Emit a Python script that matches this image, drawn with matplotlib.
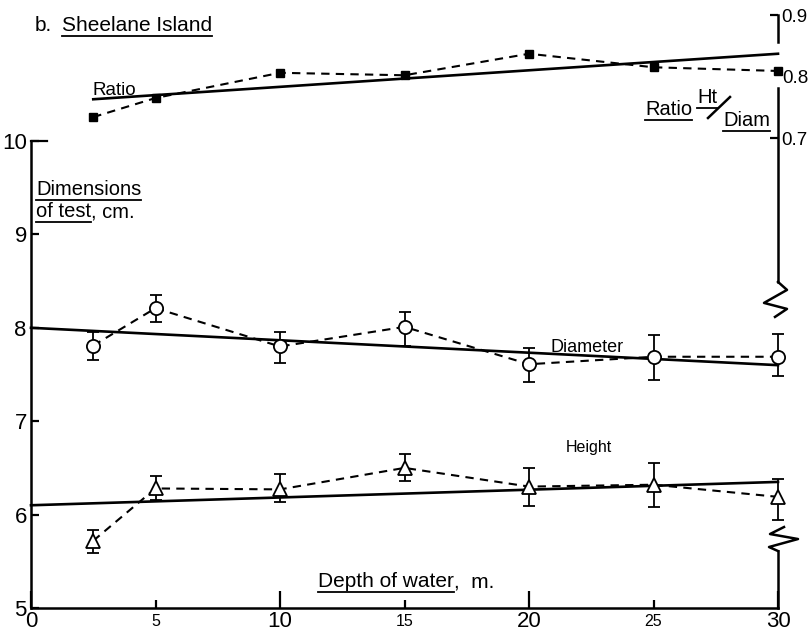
import matplotlib.pyplot as plt
from matplotlib.lines import Line2D
from matplotlib.transforms import ScaledTranslation

plt.rcParams['font.family'] = ['Liberation Sans', 'DejaVu Sans']

# depth of water, m.
depth = [2.5, 5, 10, 15, 20, 25, 30]

# diameter of test, cm (mean with range)
diam = [7.81, 8.21, 7.80, 8.01, 7.61, 7.69, 7.69]
diam_lo = [7.66, 8.06, 7.62, 7.81, 7.42, 7.44, 7.48]
diam_hi = [7.96, 8.35, 7.95, 8.17, 7.78, 7.92, 7.93]

# height of test, cm (mean with range)
height = [5.72, 6.28, 6.27, 6.50, 6.30, 6.32, 6.19]
height_lo = [5.59, 6.16, 6.14, 6.36, 6.09, 6.08, 5.94]
height_hi = [5.84, 6.41, 6.43, 6.65, 6.50, 6.55, 6.38]

# ratio Ht / Diam
ratio = [0.734, 0.765, 0.806, 0.802, 0.837, 0.815, 0.809]

# fitted lines
diam_fit_x = [0, 30]
diam_fit = [8.0, 7.6]
height_fit_x = [0, 30]
height_fit = [6.1, 6.35]
ratio_fit_x = [2.5, 30]
ratio_fit = [0.763, 0.837]

W, H = 810, 633
fig = plt.figure(figsize=(W / 100, H / 100), dpi=100)
ax = fig.add_axes([31 / W, 25 / H, 747 / W, 608 / H])
ax.set_xlim(0, 30)
ax.set_ylim(5, 5 + 608 / 93.4)
ax2 = ax.twinx()
ax2.set_ylim(0.7 - (608 - 138) / 615, 0.9 + 15 / 615)

dash = (4, 3)

# fitted lines (solid)
ax.plot(diam_fit_x, diam_fit, color='k', lw=1.9, zorder=2, clip_on=False)
ax.plot(height_fit_x, height_fit, color='k', lw=1.9, zorder=2, clip_on=False)
ax2.plot(ratio_fit_x, ratio_fit, color='k', lw=1.9, zorder=2, clip_on=False)

# dashed joins
ax.plot(depth, diam, color='k', lw=1.5, ls='--', dashes=dash, zorder=2, clip_on=False)
ax.plot(depth, height, color='k', lw=1.5, ls='--', dashes=dash, zorder=2, clip_on=False)
ax2.plot(depth, ratio, color='k', lw=1.5, ls='--', dashes=dash, zorder=2, clip_on=False)

# ranges
for mean, lo, hi in [(diam, diam_lo, diam_hi), (height, height_lo, height_hi)]:
    yerr = [[m - l for m, l in zip(mean, lo)], [h - m for m, h in zip(mean, hi)]]
    eb = ax.errorbar(depth, mean, yerr=yerr, fmt='none', ecolor='k', elinewidth=1.3,
                     capsize=4.5, capthick=1.3, zorder=3)
    for art in eb.lines[1] + eb.lines[2]:
        art.set_clip_on(False)

# markers
ax.plot(depth, diam, ls='none', marker='o', ms=9.5, mfc='white', mec='k', mew=1.3,
        zorder=4, clip_on=False)
ax.plot(depth, height, ls='none', marker='^', ms=10.5, mfc='white', mec='k', mew=1.3,
        zorder=4, clip_on=False)
ax2.plot(depth, ratio, ls='none', marker='s', ms=5.5, color='k', zorder=4, clip_on=False)

# left / bottom axes
for side in ['top', 'right']:
    ax.spines[side].set_visible(False)
for side in ax2.spines:
    ax2.spines[side].set_visible(False)
ax.spines['left'].set_bounds(5, 10)
ax.spines['left'].set_linewidth(1.8)
ax.spines['bottom'].set_linewidth(1.8)

ax.set_yticks([5, 6, 7, 8, 9, 10])
ax.tick_params(axis='y', direction='in', length=6, width=1.6, labelsize=16, pad=3)
ax.plot([0, 0.65], [10, 10], color='k', lw=1.6, clip_on=False)

ax.set_xticks([0, 10, 20, 30])
ax.set_xticks([5, 15, 25], labels=['5', '15', '25'], minor=True)
ax.tick_params(axis='x', which='major', direction='in', length=12, width=1.6,
               labelsize=16, pad=2)
ax.tick_params(axis='x', which='minor', direction='in', length=6, width=1.6,
               labelsize=11.5, pad=4)

# right ratio axis
ax2.set_yticks([0.7, 0.9], labels=['0.7', '0.9'])
ax2.set_yticks([0.8], labels=['0.8'], minor=True)
ax2.tick_params(axis='y', which='major', direction='in', length=6, width=1.6,
                labelsize=13.5, pad=2)
ax2.tick_params(axis='y', which='minor', length=0, labelsize=13.5, pad=3)

ax2.plot([30, 30], [0.9, 0.856], color='k', lw=1.8, clip_on=False)
ax2.plot([30, 30], [0.781, 0.466], color='k', lw=1.8, clip_on=False)
ax.plot([30, 30], [5, 5.61], color='k', lw=1.8, clip_on=False)

# axis break marks (pixel offsets from the spine)
top_zig = [(0, 0), (9, -8), (-14, -21), (9, -27), (-3, -35)]
bot_zig = [(0, 0), (-9, 4), (20, 12), (-8, 17), (6, 24)]
for axis, y0, zig in [(ax2, 0.466, top_zig), (ax, 5.61, bot_zig)]:
    tr = ScaledTranslation(30, y0, axis.transData)
    axis.plot([p[0] for p in zig], [p[1] for p in zig], color='k', lw=1.8,
              transform=tr, clip_on=False)

# text
renderer = fig.canvas.get_renderer()


def put(x, y, s, size, under=False):
    t = fig.text(x / W, 1 - y / H, s, fontsize=size, ha='left', va='baseline')
    bb = t.get_window_extent(renderer=renderer)
    if under:
        fig.add_artist(Line2D([bb.x0 / W, bb.x1 / W], [(bb.y0 - 0.5) / H] * 2,
                              color='k', lw=1.3, transform=fig.transFigure))
    return bb.x1


put(35, 31, 'b.', 15)
put(62, 31, 'Sheelane Island', 15, under=True)
put(92, 95, 'Ratio', 13.5)
put(36, 195, 'Dimensions', 14.5, under=True)
x1 = put(36, 217, 'of test', 14.5, under=True)
put(x1, 217, ', cm.', 14.5)
x1 = put(318, 587, 'Depth of water', 15, under=True)
put(x1, 587, ',  m.', 15)
put(550, 352, 'Diameter', 13)
put(566, 452, 'Height', 11.5)
put(645, 115, 'Ratio', 14.5, under=True)
put(697, 103, 'Ht', 14.5, under=True)
put(723, 126, 'Diam', 14.5, under=True)
fig.add_artist(Line2D([708 / W, 730 / W], [1 - 118 / H, 1 - 97 / H], color='k', lw=1.8,
                      transform=fig.transFigure))

fig.savefig('out.png', dpi=100)
